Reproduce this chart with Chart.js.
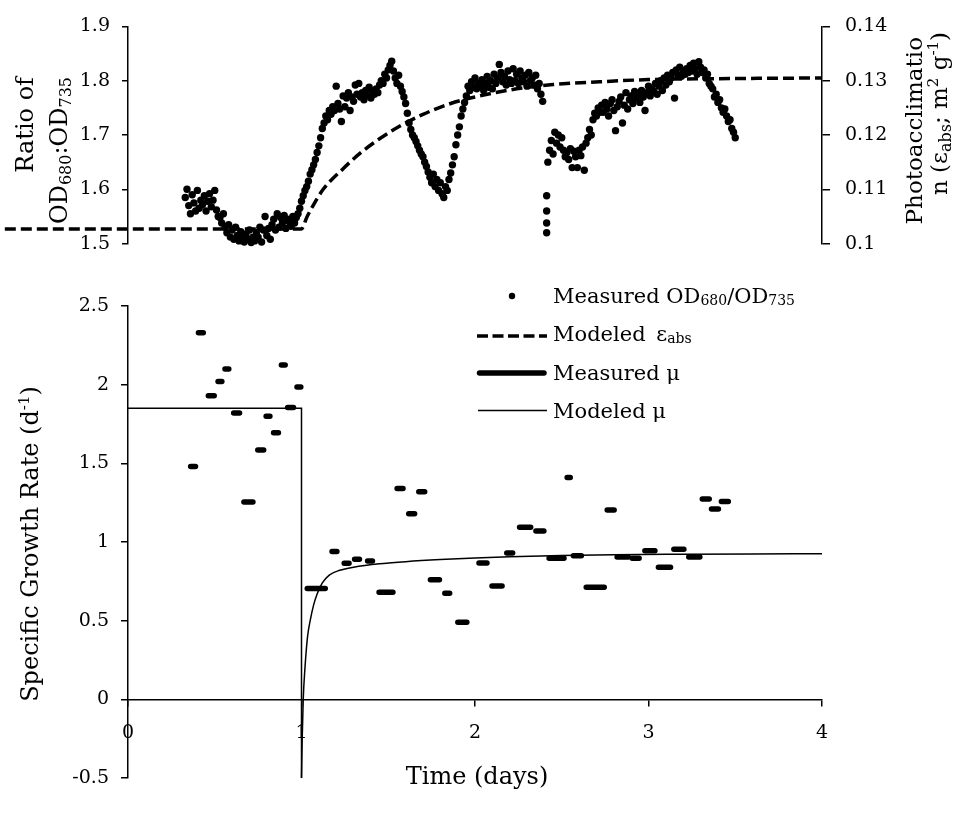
<!DOCTYPE html>
<html><head><meta charset="utf-8">
<script src="https://cdn.jsdelivr.net/npm/chart.js@4.4.1/dist/chart.umd.min.js"></script>
<style>
html,body{margin:0;padding:0;background:#fff;}
#wrap{position:relative;width:958px;height:815px;overflow:hidden;font-family:'DejaVu Serif',serif;color:#000;}
canvas{position:absolute;left:0;}
.t{position:absolute;white-space:nowrap;font-size:24px;line-height:28px;}
.rot{transform-origin:0 0;transform:rotate(-90deg);}
.lg{position:absolute;left:553px;white-space:nowrap;font-size:21px;line-height:24px;}
.sb{font-size:14px;position:relative;top:2px;}
.sb2{font-size:16px;position:relative;top:4px;}
.sp2{font-size:15px;position:relative;top:-9px;}
svg{position:absolute;left:0;top:0;}
</style></head>
<body><div id="wrap">
<canvas id="c1" width="958" height="270" style="top:0"></canvas>
<canvas id="c2" width="958" height="545" style="top:270px"></canvas>

<div class="t rot" style="left:10.7px;top:277px;width:200px;text-align:right">Ratio of</div>
<div class="t rot" style="left:44.7px;top:277px;width:200px;text-align:right">OD<span class="sb2">680</span>:OD<span class="sb2">735</span></div>
<div class="t rot" style="left:900px;top:297px;width:260px;text-align:right;font-size:23px">Photoacclimatio</div>
<div class="t rot" style="left:925px;top:292px;width:260px;text-align:right;font-size:23px">n (ε<span class="sb2">abs</span>; m<span class="sp2">2</span> g<span class="sp2">-1</span>)</div>
<div class="t rot" style="left:15.7px;top:744px;width:400px;text-align:center">Specific Growth Rate (d<span class="sp2">-1</span>)</div>
<div class="t" style="left:277px;top:762px;width:400px;text-align:center">Time (days)</div>

<svg width="958" height="815">
  <circle cx="512" cy="296" r="3.2" fill="#000"/>
  <line x1="477" y1="336" x2="547" y2="336" stroke="#000" stroke-width="3.3" stroke-dasharray="11 4.5"/>
  <line x1="479.5" y1="373" x2="544" y2="373" stroke="#000" stroke-width="5.5" stroke-linecap="round"/>
  <line x1="478" y1="410.5" x2="547" y2="410.5" stroke="#000" stroke-width="1.5"/>
</svg>
<div class="lg" style="top:283.7px">Measured OD<span class="sb">680</span>/OD<span class="sb">735</span></div>
<div class="lg" style="top:322.4px">Modeled <span style="margin-left:4px">ε</span><span class="sb">abs</span></div>
<div class="lg" style="top:360.7px">Measured μ</div>
<div class="lg" style="top:398.7px">Modeled μ</div>
</div>
<script>
// ---- Top panel: measured OD680/OD735 ratio (sampled every 0.01 day from 0.33 d)
const odStart = 0.33;
const odStep = 0.01;
const odValues = [
  1.585,1.600,1.570,1.555,1.590,1.575,1.560,1.598,1.565,1.580,
  1.572,1.588,1.560,1.578,1.592,1.568,1.580,1.598,1.562,1.550,
  1.548,1.538,1.555,1.530,1.520,1.535,1.512,1.525,1.508,1.530,
  1.515,1.505,1.522,1.510,1.503,1.518,1.508,1.525,1.502,1.512,
  1.505,1.520,1.512,1.530,1.503,1.525,1.550,1.515,1.528,1.508,
  1.535,1.545,1.525,1.555,1.530,1.548,1.538,1.552,1.528,1.545,
  1.540,1.532,1.550,1.538,1.548,1.555,1.565,1.578,1.588,1.598,
  1.605,1.615,1.628,1.636,1.645,1.655,1.668,1.680,1.695,1.712,
  1.722,1.735,1.728,1.745,1.738,1.752,1.745,1.790,1.758,1.748,
  1.725,1.772,1.752,1.768,1.778,1.745,1.770,1.762,1.792,1.775,
  1.795,1.770,1.778,1.765,1.782,1.772,1.788,1.768,1.780,1.775,
  1.785,1.778,1.792,1.800,1.795,1.812,1.805,1.820,1.828,1.836,
  1.818,1.805,1.795,1.810,1.790,1.780,1.770,1.758,1.740,1.722,
  1.710,1.700,1.695,1.688,1.680,1.672,1.665,1.660,1.650,1.642,
  1.632,1.622,1.612,1.628,1.605,1.618,1.598,1.612,1.592,1.585,
  1.605,1.598,1.618,1.630,1.645,1.660,1.682,1.700,1.715,1.735,
  1.748,1.760,1.772,1.790,1.782,1.798,1.788,1.805,1.785,1.795,
  1.790,1.802,1.782,1.795,1.808,1.788,1.800,1.785,1.812,1.795,
  1.805,1.830,1.815,1.798,1.808,1.792,1.818,1.802,1.795,1.822,
  1.800,1.812,1.795,1.818,1.805,1.798,1.810,1.790,1.815,1.800,
  1.805,1.792,1.810,1.785,1.795,1.775,1.762,null,null,1.650,
  1.672,1.690,1.665,1.705,1.685,1.700,1.678,1.695,1.672,1.660,
  1.668,1.655,1.675,1.640,1.670,1.660,1.640,1.672,1.662,1.678,
  1.635,1.685,1.695,1.710,1.700,1.728,1.740,1.735,1.750,1.742,
  1.755,1.742,1.760,1.748,1.735,1.758,1.765,1.745,1.708,1.752,
  1.762,1.770,1.722,1.755,1.778,1.748,1.765,1.772,1.758,1.780,
  1.768,1.775,1.760,1.782,1.770,1.745,1.778,1.790,1.772,1.785,
  1.780,1.795,1.775,1.790,1.800,1.782,1.805,1.792,1.810,1.798,
  1.805,1.815,1.768,1.820,1.810,1.825,1.808,1.818,1.812,1.822,
  1.815,1.828,1.818,1.832,1.822,1.812,1.835,1.825,1.815,1.820,
  1.805,1.812,1.795,1.790,1.785,1.770,1.775,1.760,1.765,1.750,
  1.742,1.748,1.735,1.725,1.728,1.712,1.705,1.695
];
// dilution dip (same time stamp)
const odDipT = [2.413, 2.413, 2.413, 2.413];
const odDipV = [1.520, 1.538, 1.560, 1.588];

// ---- Top panel: modeled eps_abs (right axis, m2 g-1)
const epsT = [-0.71, 1.0, 1.03, 1.07, 1.125, 1.24, 1.34, 1.45, 1.57, 1.70, 1.86, 2.0, 2.24, 2.45, 2.72, 3.0, 3.5, 4.0];
const epsV = [0.1027, 0.1027, 0.1048, 0.1072, 0.1100, 0.1138, 0.1167, 0.1193, 0.1217, 0.1238, 0.1258, 0.1270, 0.1285, 0.1293, 0.1298, 0.1302, 0.1304, 0.1305];

// ---- Bottom panel: measured mu (interval start, end, value)
const muStart = [0.361,0.406,0.463,0.519,0.559,0.609,0.668,0.748,0.796,0.839,0.884,0.920,0.974,1.033,1.176,1.246,1.306,1.381,1.447,1.551,1.618,1.676,1.743,1.826,1.901,2.023,2.098,2.183,2.257,2.351,2.427,2.531,2.567,2.641,2.762,2.819,2.906,2.979,3.057,3.146,3.232,3.310,3.363,3.420];
const muEnd   = [0.389,0.434,0.497,0.541,0.581,0.643,0.720,0.782,0.818,0.867,0.906,0.954,0.996,1.137,1.204,1.274,1.334,1.409,1.527,1.585,1.652,1.710,1.795,1.854,1.953,2.069,2.156,2.217,2.321,2.397,2.513,2.549,2.613,2.745,2.802,2.883,2.946,3.037,3.127,3.204,3.296,3.350,3.403,3.460];
const muVal   = [1.48,2.33,1.93,2.02,2.10,1.82,1.255,1.585,1.80,1.695,2.125,1.855,1.985,0.705,0.94,0.865,0.89,0.88,0.68,1.34,1.18,1.32,0.76,0.675,0.49,0.867,0.72,0.93,1.094,1.07,0.897,1.41,0.912,0.712,1.204,0.905,0.897,0.945,0.84,0.954,0.905,1.274,1.209,1.257];

// ---- Bottom panel: modeled mu
const muModStepT = [0, 1.0, 1.0];
const muModStepV = [1.85, 1.85, -0.5];
const muModT = [1.0, 1.004, 1.01, 1.02, 1.035, 1.05, 1.07, 1.09, 1.12, 1.16, 1.22, 1.3, 1.45, 1.6, 1.8, 2.0, 2.2, 2.5, 2.8, 3.2, 3.6, 4.0];
const muModV = [-0.5, -0.25, 0.0, 0.2, 0.4, 0.5, 0.6, 0.67, 0.74, 0.79, 0.82, 0.84, 0.862, 0.875, 0.888, 0.898, 0.906, 0.914, 0.919, 0.922, 0.924, 0.925];

// ---- tick labels
const topLeftTicks = [1.5, 1.6, 1.7, 1.8, 1.9];
const topRightTicks = [0.1, 0.11, 0.12, 0.13, 0.14];
const botYTicks = [-0.5, 0, 0.5, 1, 1.5, 2, 2.5];
const botXTicks = [0, 1, 2, 3, 4];

// ---- build datasets
const odPoints = odValues.map((v, i) => ({x: +(odStart + i * odStep).toFixed(3), y: v}))
  .concat(odDipT.map((t, i) => ({x: t, y: odDipV[i]})));
const epsPoints = epsT.map((t, i) => ({x: t, y: epsV[i]}));
const muPoints = [];
muStart.forEach((s, i) => {
  muPoints.push({x: s, y: muVal[i]}, {x: muEnd[i], y: muVal[i]}, {x: muEnd[i], y: null});
});
const muStepPoints = muModStepT.map((t, i) => ({x: t, y: muModStepV[i]}));
const muCurvePoints = muModT.map((t, i) => ({x: t, y: muModV[i]}));

Chart.defaults.font.family = "'DejaVu Serif', serif";
Chart.defaults.color = '#000';

const fmt = v => String(+(+v).toFixed(2));
const border = {display: true, color: '#000', width: 1.5};
const grid = (tl) => ({display: true, drawOnChartArea: false, drawTicks: true, color: '#000', lineWidth: 1.5, tickLength: tl});
const fixedTicks = (arr) => (scale) => { scale.ticks = arr.map(v => ({value: v})); };

new Chart(document.getElementById('c1'), {
  type: 'scatter',
  data: {datasets: [
    {data: odPoints, pointRadius: 3.7, pointHoverRadius: 3.7, backgroundColor: '#000', borderColor: '#000', borderWidth: 0, yAxisID: 'y', clip: false},
    {data: epsPoints, showLine: true, borderColor: '#000', borderWidth: 3.5, borderDash: [11, 5], pointRadius: 0, cubicInterpolationMode: 'monotone', yAxisID: 'y1', clip: false}
  ]},
  options: {
    responsive: false, animation: false, devicePixelRatio: 1, events: [],
    layout: {padding: {left: 0, right: 0, top: 13, bottom: 17}},
    plugins: {legend: {display: false}, tooltip: {enabled: false}},
    scales: {
      x: {type: 'linear', min: 0, max: 4, display: false},
      y: {type: 'linear', position: 'left', min: 1.5, max: 1.9,
          afterBuildTicks: fixedTicks(topLeftTicks),
          ticks: {padding: 12, font: {size: 19}, callback: fmt},
          grid: grid(6), border: border, afterFit: s => { s.width = 128; }},
      y1: {type: 'linear', position: 'right', min: 0.1, max: 0.14,
          afterBuildTicks: fixedTicks(topRightTicks),
          ticks: {padding: 15, font: {size: 19}, callback: fmt},
          grid: grid(8), border: border, afterFit: s => { s.width = 136; }}
    }
  }
});

new Chart(document.getElementById('c2'), {
  type: 'scatter',
  data: {datasets: [
    {data: muPoints, showLine: true, spanGaps: false, borderColor: '#000', borderWidth: 5.5, borderCapStyle: 'round', pointRadius: 0, clip: false},
    {data: muStepPoints, showLine: true, borderColor: '#000', borderWidth: 1.5, pointRadius: 0, clip: false},
    {data: muCurvePoints, showLine: true, borderColor: '#000', borderWidth: 1.5, pointRadius: 0, cubicInterpolationMode: 'monotone', clip: false}
  ]},
  options: {
    responsive: false, animation: false, devicePixelRatio: 1, events: [],
    layout: {padding: {left: 0, right: 136, top: 36, bottom: 37}},
    plugins: {legend: {display: false}, tooltip: {enabled: false}},
    scales: {
      x: {type: 'linear', min: 0, max: 4, position: {y: 0},
          afterBuildTicks: fixedTicks(botXTicks),
          ticks: {padding: 16, font: {size: 19}, callback: fmt, maxRotation: 0},
          grid: grid(6), border: border},
      y: {type: 'linear', position: 'left', min: -0.5, max: 2.5,
          afterBuildTicks: fixedTicks(botYTicks),
          ticks: {padding: 12, font: {size: 19}, callback: fmt},
          grid: grid(7), border: border, afterFit: s => { s.width = 128; }}
    }
  }
});
</script>
</body></html>
